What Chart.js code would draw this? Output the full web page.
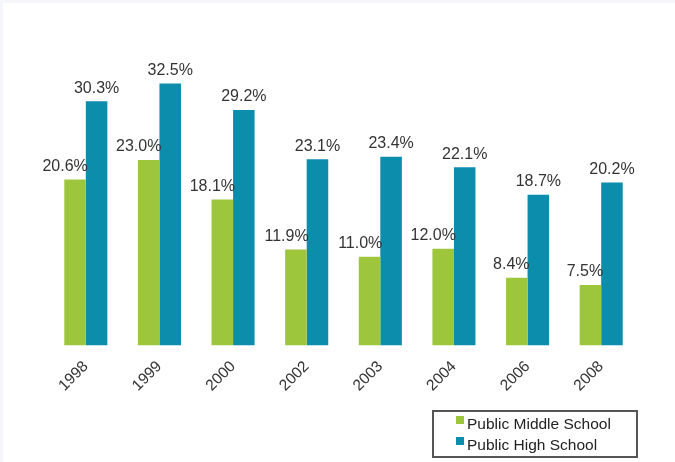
<!DOCTYPE html>
<html>
<head>
<meta charset="utf-8">
<script src="https://cdn.jsdelivr.net/npm/chart.js@4.4.1/dist/chart.umd.min.js"></script>
<style>
  html, body { margin: 0; padding: 0; }
  body { width: 675px; height: 462px; background: #f5f5fc; position: relative; overflow: hidden; }
  #wrap { position: absolute; left: 3px; top: 3px; width: 672px; height: 459px; background: #fff; }
  #legend {
    position: absolute; left: 429px; top: 407px; width: 202px; height: 44px;
    border: 2px solid #555; font-family: "Liberation Sans", Arial, sans-serif;
    font-size: 15.5px; color: #222;
  }
  #legend .item { position: absolute; left: 33px; white-space: nowrap; }
  #legend .swatch { position: absolute; left: -11px; top: 1px; width: 8px; height: 8px; }
</style>
</head>
<body>
<div id="wrap">
  <canvas id="chart" width="672" height="459"></canvas>
  <div id="legend"></div>
</div>
<script>
const years = ['1998', '1999', '2000', '2002', '2003', '2004', '2006', '2008'];
const middleSchool = [20.6, 23.0, 18.1, 11.9, 11.0, 12.0, 8.4, 7.5];
const highSchool = [30.3, 32.5, 29.2, 23.1, 23.4, 22.1, 18.7, 20.2];
const seriesNames = ['Public Middle School', 'Public High School'];

const GREEN = '#9dc63c';
const BLUE = '#0b8dab';
const FONT = '"Liberation Sans", Arial, sans-serif';

// percentage labels above each bar; middle school labels sit flush with the bar's right edge
const valueLabels = {
  id: 'valueLabels',
  afterDatasetsDraw(chart) {
    const ctx = chart.ctx;
    ctx.save();
    ctx.font = '16px ' + FONT;
    ctx.fillStyle = '#333';
    ctx.textBaseline = 'bottom';
    chart.data.datasets.forEach((ds, i) => {
      const meta = chart.getDatasetMeta(i);
      meta.data.forEach((bar, j) => {
        const text = ds.data[j].toFixed(1) + '%';
        if (i === 0) {
          ctx.textAlign = 'right';
          ctx.fillText(text, bar.x + bar.width / 2 + 2, bar.y - 5);
        } else {
          ctx.textAlign = 'center';
          ctx.fillText(text, bar.x, bar.y - 5);
        }
      });
    });
    ctx.restore();
  }
};

const chart = new Chart(document.getElementById('chart'), {
  type: 'bar',
  data: {
    labels: years,
    datasets: [
      { label: seriesNames[0], data: middleSchool, backgroundColor: GREEN },
      { label: seriesNames[1], data: highSchool, backgroundColor: BLUE }
    ]
  },
  options: {
    responsive: false,
    animation: false,
    layout: { padding: { left: 46, right: 37, top: 20, bottom: 55 } },
    datasets: { bar: { categoryPercentage: 0.585, barPercentage: 1.0 } },
    plugins: { legend: { display: false }, tooltip: { enabled: false } },
    scales: {
      x: {
        grid: { display: false, drawTicks: false },
        border: { display: false },
        ticks: {
          color: '#333',
          font: { family: FONT, size: 15.5 },
          minRotation: 45,
          maxRotation: 45,
          padding: 12
        }
      },
      y: {
        display: false,
        min: 0,
        max: 40
      }
    }
  },
  plugins: [valueLabels]
});

// legend box built from the dataset names and colours
const legend = document.getElementById('legend');
chart.data.datasets.forEach((ds, i) => {
  const item = document.createElement('div');
  item.className = 'item';
  item.style.top = (i === 0 ? 3 : 24) + 'px';
  const sw = document.createElement('span');
  sw.className = 'swatch';
  sw.style.background = ds.backgroundColor;
  item.appendChild(sw);
  item.appendChild(document.createTextNode(ds.label));
  legend.appendChild(item);
});
</script>
</body>
</html>
